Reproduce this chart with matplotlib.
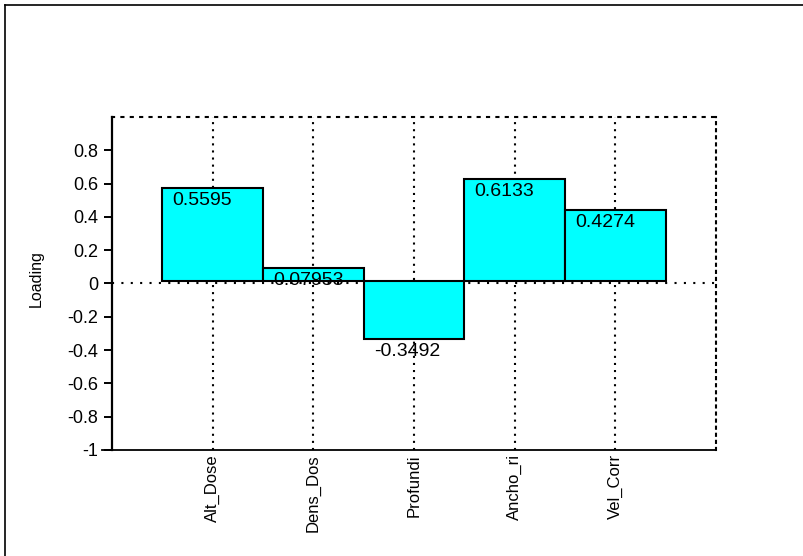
import numpy as np
import matplotlib
matplotlib.use('Agg')
import matplotlib.pyplot as plt
from matplotlib.lines import Line2D

categories = ['Alt_Dose', 'Dens_Dos', 'Profundi', 'Ancho_ri', 'Vel_Corr']
loadings = [0.5595, 0.07953, -0.3492, 0.6133, 0.4274]
label_text = ['0.5595', '0.07953', '-0.3492', '0.6133', '0.4274']
yticks = [-1, -0.8, -0.6, -0.4, -0.2, 0, 0.2, 0.4, 0.6, 0.8]
ytick_labels = ['-1', '-0.8', '-0.6', '-0.4', '-0.2', '0', '0.2', '0.4', '0.6', '0.8']

plt.rcParams['font.family'] = ['Liberation Sans', 'DejaVu Sans']

fig = plt.figure(figsize=(8.04, 5.56), dpi=100)
ax = fig.add_axes([112/804, 1-450/556, (716-112)/804, (450-117)/556])

x = np.arange(1, len(categories) + 1)
base = 0.015  # bars sit slightly above the zero line in the original
ax.bar(x, loadings, width=1.0, bottom=base, color='#00ffff',
       edgecolor='black', linewidth=1.5, zorder=3)

hdot = (0, (1, 3.5))
vdot = (0, (1, 2.4))
for xi in x:
    ax.axvline(xi, color='black', lw=1.5, ls=vdot, zorder=1)
ax.axhline(0, color='black', lw=1.5, ls=hdot, zorder=1)

for xi, v, t in zip(x, loadings, label_text):
    ax.annotate(t, xy=(xi - 0.4, base + v), xytext=(0, -3),
                textcoords='offset points', ha='left', va='top',
                fontsize=14, zorder=4)

ax.set_xlim(0, 6)
ax.set_ylim(-1, 1)
ax.set_yticks(yticks)
ax.set_yticklabels(ytick_labels, fontsize=13)
ax.set_xticks(x)
ax.set_xticklabels(categories, rotation=90, fontsize=12)
ax.tick_params(axis='x', length=0, pad=3)
ax.tick_params(axis='y', length=6, width=1.4, pad=4)
ax.set_ylabel('Loading', fontsize=11.5)
ax.yaxis.set_label_coords(-0.113, 0.516)

ax.spines['top'].set_linestyle(hdot)
ax.spines['top'].set_linewidth(1.5)
ax.spines['right'].set_linestyle(vdot)
ax.spines['right'].set_linewidth(1.5)
ax.spines['left'].set_linewidth(1.6)
ax.spines['bottom'].set_linewidth(1.3)
ax.spines['bottom'].set_bounds(-0.1, 6)

# figure frame (top and left edges)
fig.add_artist(Line2D([5/804, 5/804], [0, 1-5/556], transform=fig.transFigure,
                      color='black', lw=1.2))
fig.add_artist(Line2D([5/804, 1], [1-5/556, 1-5/556], transform=fig.transFigure,
                      color='black', lw=1.2))

fig.savefig('out.png', dpi=100)
